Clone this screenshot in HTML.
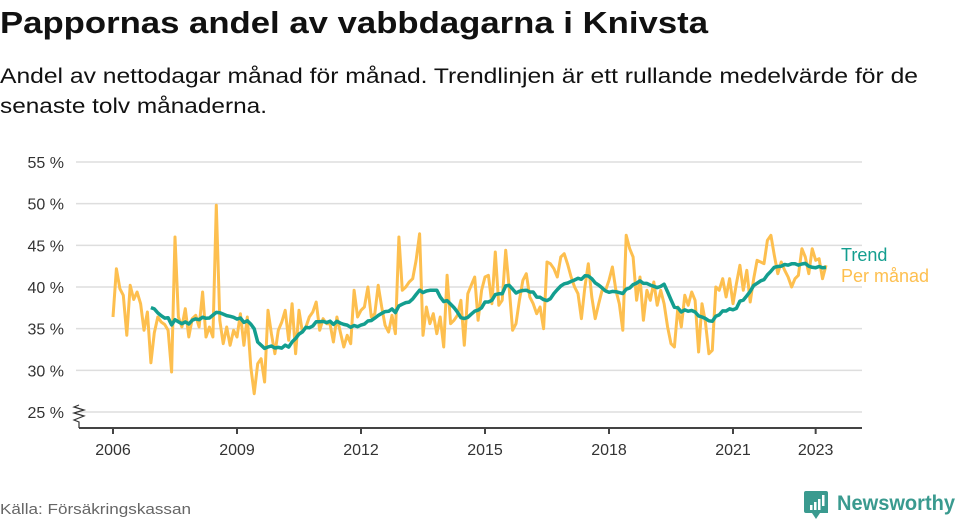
<!DOCTYPE html>
<html><head><meta charset="utf-8"><style>
html,body{margin:0;padding:0;background:#fff;}
svg{display:block;font-family:"Liberation Sans",sans-serif;}
</style></head><body>
<svg id="chart" width="960" height="520" viewBox="0 0 960 520">
<text x="0" y="33" font-size="31" font-weight="bold" fill="#111" textLength="708" lengthAdjust="spacingAndGlyphs">Pappornas andel av vabbdagarna i Knivsta</text>
<text x="0" y="83" font-size="21" fill="#111" textLength="918" lengthAdjust="spacingAndGlyphs">Andel av nettodagar månad för månad. Trendlinjen är ett rullande medelvärde för de</text>
<text x="0" y="113" font-size="21" fill="#111" textLength="267" lengthAdjust="spacingAndGlyphs">senaste tolv månaderna.</text>
<g id="grid"></g>
<g id="series"></g>
<g id="axes"></g>
<text x="0" y="514" font-size="15" fill="#666" textLength="191" lengthAdjust="spacingAndGlyphs">Källa: Försäkringskassan</text>
<g>
<path d="M806,491 h20 a2,2 0 0 1 2,2 v20 h-8 l-4,6 l-4,-6 h-6 a2,2 0 0 1 -2,-2 v-18 a2,2 0 0 1 2,-2z" fill="#3a9a8f"/>
<rect x="810" y="505" width="2.5" height="5" fill="#fff"/><rect x="814" y="502" width="2.5" height="8" fill="#fff"/><rect x="818" y="499" width="2.5" height="11" fill="#fff"/><rect x="822" y="495" width="2.5" height="11" fill="#fff"/>
<text x="837" y="510" font-size="21" font-weight="bold" fill="#3a9a8f" textLength="118" lengthAdjust="spacingAndGlyphs">Newsworthy</text>
</g>
</svg>
<script>
const yTicks=[25,30,35,40,45,50,55];
const xTickYears=[2006,2009,2012,2015,2018,2021,2023];
const startYear=2006;
const monthly=[36.4,42.2,39.8,39,34.2,40.2,38.5,39.4,38,34.8,37,30.9,
34.5,36.4,35.8,35.5,34.8,29.8,46,36.4,35.2,37.4,34,36.2,
36.6,35.2,39.4,34,35.2,34,49.8,36,33.2,35.2,33,34.8,
34,36.8,33,36.4,30.4,27.2,30.8,31.4,28.6,37.2,34.4,32,
34.8,35.8,37.2,33.6,38,32,37.2,34.6,35.2,36.4,37,38.2,
34.8,36.2,35.6,35.6,33.4,36.4,34.6,32.8,34.2,33.2,39.6,36.4,
37.2,37.6,40,36.4,36.8,40.2,37.6,35.4,34.6,36.6,34.4,46,
39.6,40,40.6,41,43.2,46.4,34.2,37.6,35.6,36.8,34.4,36.4,
32.8,41.4,35.6,36,36.6,38.4,33,39.2,40.2,41.2,36,39.6,
41.2,41.4,38,44.2,37.8,38.4,44.4,40,34.8,35.6,38.4,40.8,
41.6,38.8,38,36.8,37.6,35,43,42.8,42.2,41.2,43.6,44,
42.7,41.2,40,39.2,36.2,40,42.8,38.8,36.2,38,39.6,39.6,
40.8,42.4,39.6,38,34.8,46.2,44.6,43.6,38.4,41.2,36,39.6,
38.4,40.6,37.8,39.6,38,35.2,33.2,32.8,37.6,35.2,39,37.8,
39.4,38.4,32.2,38,35.8,32,32.4,40,39.6,41,38.8,41,
38,40.4,42.6,39.6,42,38.2,41,43.2,43,42.8,45.6,46.2,
43.8,41.6,43,42,41.2,40,41,41.4,44.6,43.6,41.6,44.6,
43.2,43.4,41,42.6];
const trendWindow=12;

const X0=113, PXY=41.333, Y0=412, PPCT=8.333;
const xScale=m=>X0+(m/12)*PXY;
const yScale=v=>Y0-(v-25)*PPCT;
const NS="http://www.w3.org/2000/svg";
function mk(tag,attrs,parent){const e=document.createElementNS(NS,tag);for(const k in attrs)e.setAttribute(k,attrs[k]);parent.appendChild(e);return e;}
const grid=document.getElementById('grid'),series=document.getElementById('series'),axes=document.getElementById('axes');
yTicks.forEach(t=>{
 const y=yScale(t);
 const l=mk('line',{x1:76,x2:862,y1:y,y2:y,stroke:'#dedede','stroke-width':1.5},grid);
 
 
 const tx=mk('text',{x:64,y:y+6,'font-size':16,fill:'#333','text-anchor':'end'},axes);
 tx.textContent=t+' %';
 
 
});
const ax=mk('line',{x1:79,x2:862,y1:428,y2:428,stroke:'#444','stroke-width':2},axes);


const zz=mk('path',{d:'M79,428 L79,422 L74,420 L84,416 L74,413 L84,410 L74,407 L79,405',fill:'none',stroke:'#333','stroke-width':1.2},axes);


xTickYears.forEach(yr=>{
 const x=xScale((yr-startYear)*12);
 const tk=mk('line',{x1:x,x2:x,y1:428,y2:434,stroke:'#444','stroke-width':2},axes);
 
 
 const tx=mk('text',{x:x,y:455,'font-size':16,fill:'#333','text-anchor':'middle'},axes);
 tx.textContent=yr;
 
 
});
const mp=monthly.map((v,i)=>xScale(i).toFixed(1)+','+yScale(v).toFixed(1)).join(' ');
const pl=mk('polyline',{points:mp,fill:'none',stroke:'#fdbf4f','stroke-width':3,'stroke-linejoin':'round'},series);


const tp=[];
for(let i=trendWindow-1;i<monthly.length;i++){let s=0;for(let j=i-trendWindow+1;j<=i;j++)s+=monthly[j];tp.push(xScale(i).toFixed(1)+','+yScale(s/trendWindow).toFixed(1));}
const tl=mk('polyline',{points:tp.join(' '),fill:'none',stroke:'#139e8f','stroke-width':3.5,'stroke-linejoin':'round'},series);


const lt=mk('text',{x:841,y:261,'font-size':18,fill:'#139e8f'},axes);
lt.textContent='Trend';


const lm=mk('text',{x:841,y:282,'font-size':18,fill:'#fdbf4f'},axes);
lm.textContent='Per månad';


</script>
</body></html>
